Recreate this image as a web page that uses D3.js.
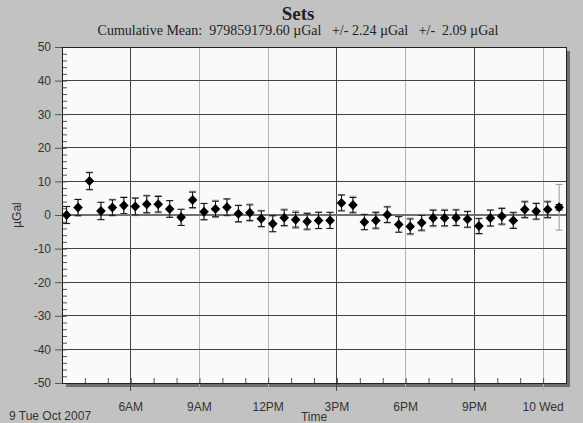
<!DOCTYPE html>
<html>
<head>
<meta charset="utf-8">
<script src="https://cdn.jsdelivr.net/npm/d3@7"></script>
<style>
  body { margin: 0; background: #c2c2c2; }
  svg { display: block; }
</style>
</head>
<body>
<svg id="chart" width="583" height="423"></svg>
<script>
// set times (start of each set)
const setTimes = [
  '2007-10-09T03:12', '2007-10-09T03:42', '2007-10-09T04:12', '2007-10-09T04:42',
  '2007-10-09T05:12', '2007-10-09T05:42', '2007-10-09T06:12', '2007-10-09T06:42',
  '2007-10-09T07:12', '2007-10-09T07:42', '2007-10-09T08:12', '2007-10-09T08:42',
  '2007-10-09T09:12', '2007-10-09T09:42', '2007-10-09T10:12', '2007-10-09T10:42',
  '2007-10-09T11:12', '2007-10-09T11:42', '2007-10-09T12:12', '2007-10-09T12:42',
  '2007-10-09T13:12', '2007-10-09T13:42', '2007-10-09T14:12', '2007-10-09T14:42',
  '2007-10-09T15:12', '2007-10-09T15:42', '2007-10-09T16:12', '2007-10-09T16:42',
  '2007-10-09T17:12', '2007-10-09T17:42', '2007-10-09T18:12', '2007-10-09T18:42',
  '2007-10-09T19:12', '2007-10-09T19:42', '2007-10-09T20:12', '2007-10-09T20:42',
  '2007-10-09T21:12', '2007-10-09T21:42', '2007-10-09T22:12', '2007-10-09T22:42',
  '2007-10-09T23:12', '2007-10-09T23:42', '2007-10-10T00:12', '2007-10-10T00:42'
];

// set gravity minus cumulative mean (µGal)
const setValues = [
  0.0, 2.2, 10.1, 1.2, 2.2, 2.8, 2.5, 3.2, 3.2, 1.8, -0.7, 4.5,
  1.0, 1.8, 2.3, 0.4, 0.7, -1.1, -2.6, -0.8, -1.4, -1.9, -1.6, -1.6,
  3.6, 3.0, -2.1, -1.6, 0.1, -2.8, -3.4, -2.3, -0.9, -0.9, -0.8, -1.3,
  -3.3, -0.9, -0.4, -1.6, 1.6, 1.1, 1.6, 2.3
];

// set scatter (black bars) and set uncertainty (grey bars)
const setErrBlack = [
  2.5, 2.4, 2.6, 2.6, 2.3, 2.4, 2.5, 2.5, 2.3, 2.5, 2.4, 2.3,
  2.4, 2.3, 2.5, 2.4, 2.3, 2.3, 2.4, 2.3, 2.2, 2.3, 2.4, 2.4,
  2.4, 2.2, 2.3, 2.3, 2.3, 2.3, 2.2, 2.2, 2.3, 2.3, 2.3, 2.3,
  2.2, 2.4, 2.3, 2.4, 2.3, 2.3, 2.3, 0.8
];
const setErrGrey = [
  2.6, 2.5, 2.4, 2.5, 2.5, 2.6, 2.7, 2.7, 2.6, 2.4, 2.4, 2.6,
  2.5, 2.6, 2.4, 2.6, 2.6, 2.5, 2.3, 2.6, 2.6, 2.6, 2.5, 2.4,
  2.2, 2.6, 2.2, 2.6, 2.5, 2.4, 2.5, 2.5, 2.6, 2.6, 2.5, 2.5,
  2.4, 2.3, 2.6, 2.2, 2.6, 2.5, 2.6, 6.8
];

const xTickTimes = [
  '2007-10-09T06:00', '2007-10-09T09:00', '2007-10-09T12:00', '2007-10-09T15:00',
  '2007-10-09T18:00', '2007-10-09T21:00', '2007-10-10T00:00'
];
const xTickLabels = ['6AM', '9AM', '12PM', '3PM', '6PM', '9PM', '10 Wed'];
const yTicks = [-50, -40, -30, -20, -10, 0, 10, 20, 30, 40, 50];

const titleText = 'Sets';
const subtitleText = 'Cumulative Mean:  979859179.60 \u00b5Gal   +/- 2.24 \u00b5Gal   +/-  2.09 \u00b5Gal';
const dateLabel = '9 Tue Oct 2007';
const xTitle = 'Time';
const yTitle = '\u00b5Gal';

const parseTime = d3.timeParse('%Y-%m-%dT%H:%M');

const margin = { top: 47, left: 62, right: 17, bottom: 40 };
const totalWidth = 583;
const totalHeight = 423;
const chartWidth = totalWidth - margin.left - margin.right;
const chartHeight = totalHeight - margin.top - margin.bottom;
const sansFont = '"Liberation Sans", Arial, sans-serif';
const serifFont = '"Liberation Serif", "Times New Roman", serif';

const data = setTimes.map((t, i) => ({
    time: parseTime(t),
    value: setValues[i],
    errBlack: setErrBlack[i],
    errGrey: setErrGrey[i]
}));

const xScale = d3.scaleTime()
    .domain([parseTime('2007-10-09T03:00'), parseTime('2007-10-10T01:00')])
    .range([0, chartWidth]);
const yScale = d3.scaleLinear().domain([-50, 50]).range([chartHeight, 0]);

const svg = d3.select('#chart');

svg.append('rect')
    .attr('width', totalWidth)
    .attr('height', totalHeight)
    .attr('fill', '#c2c2c2');

// titles
svg.append('text')
    .attr('x', 298).attr('y', 20)
    .attr('text-anchor', 'middle')
    .attr('font-family', serifFont)
    .attr('font-weight', 'bold')
    .attr('font-size', 19)
    .attr('fill', '#222')
    .text(titleText);

svg.append('text')
    .attr('x', 298).attr('y', 35)
    .attr('text-anchor', 'middle')
    .attr('font-family', serifFont)
    .attr('font-size', 14)
    .attr('fill', '#222')
    .attr('xml:space', 'preserve')
    .style('white-space', 'pre')
    .text(subtitleText);

const gChart = svg.append('g')
    .attr('transform', 'translate(' + margin.left + ',' + margin.top + ')');

// shadow + plot background
gChart.append('rect')
    .attr('x', 4).attr('y', 4)
    .attr('width', chartWidth).attr('height', chartHeight)
    .attr('fill', '#6e6e6e');
gChart.append('rect')
    .attr('width', chartWidth).attr('height', chartHeight)
    .attr('fill', '#fafafa');

// vertical grid (every 3 hours), some lighter than others as in the original
const lightHours = new Set([9, 12, 18, 0]);
gChart.append('g')
    .selectAll('line')
    .data(xTickTimes.map(parseTime))
    .join('line')
    .attr('x1', d => xScale(d)).attr('x2', d => xScale(d))
    .attr('y1', 0).attr('y2', chartHeight + 8)
    .attr('stroke', d => lightHours.has(d.getHours()) ? '#b4b4b4' : '#444')
    .attr('stroke-width', 1)
    .attr('shape-rendering', 'crispEdges');

// horizontal grid
gChart.append('g')
    .selectAll('line')
    .data(yTicks.filter(v => v !== 0 && Math.abs(v) !== 50))
    .join('line')
    .attr('x1', 0).attr('x2', chartWidth)
    .attr('y1', d => yScale(d)).attr('y2', d => yScale(d))
    .attr('stroke', '#444')
    .attr('shape-rendering', 'crispEdges');

gChart.append('line')
    .attr('x1', 0).attr('x2', chartWidth)
    .attr('y1', yScale(0)).attr('y2', yScale(0))
    .attr('stroke', '#707070')
    .attr('stroke-width', 2);

// minor ticks: y every 2 inside, x hourly inside
const yMinor = d3.axisRight(yScale).ticks(50).tickSize(5).tickFormat('');
gChart.append('g').call(yMinor)
    .call(g => g.select('.domain').remove())
    .selectAll('line').attr('stroke', '#555');

const xMinor = d3.axisTop(xScale).ticks(d3.timeHour.every(1)).tickSize(5).tickFormat('');
gChart.append('g')
    .attr('transform', 'translate(0,' + chartHeight + ')')
    .call(xMinor)
    .call(g => g.select('.domain').remove())
    .selectAll('line').attr('stroke', '#555');

// plot frame
gChart.append('rect')
    .attr('width', chartWidth).attr('height', chartHeight)
    .attr('fill', 'none')
    .attr('stroke', '#222')
    .attr('shape-rendering', 'crispEdges');

// y axis
const yAxis = d3.axisLeft(yScale).tickValues(yTicks).tickSize(7).tickPadding(4)
    .tickFormat(d => String(d));
gChart.append('g').call(yAxis)
    .call(g => g.select('.domain').remove())
    .call(g => g.selectAll('line').attr('stroke', '#555'))
    .call(g => g.selectAll('text')
        .attr('font-family', sansFont)
        .attr('font-size', 12)
        .attr('fill', '#333'));

// x axis labels
gChart.append('g')
    .selectAll('text')
    .data(xTickTimes)
    .join('text')
    .attr('x', d => xScale(parseTime(d)))
    .attr('y', chartHeight + 28)
    .attr('text-anchor', 'middle')
    .attr('font-family', sansFont)
    .attr('font-size', 12)
    .attr('fill', '#333')
    .text((d, i) => xTickLabels[i]);

svg.append('text')
    .attr('x', 9).attr('y', 420)
    .attr('font-family', sansFont)
    .attr('font-size', 12)
    .attr('fill', '#333')
    .text(dateLabel);

svg.append('text')
    .attr('x', margin.left + chartWidth / 2).attr('y', 421)
    .attr('text-anchor', 'middle')
    .attr('font-family', sansFont)
    .attr('font-size', 12)
    .attr('fill', '#333')
    .text(xTitle);

svg.append('text')
    .attr('transform', 'translate(21,' + (margin.top + yScale(0)) + ') rotate(-90)')
    .attr('text-anchor', 'middle')
    .attr('font-family', sansFont)
    .attr('font-size', 12)
    .attr('fill', '#333')
    .text(yTitle);

// error bars
const capHalf = 3.5;
const drawErrorBars = (key, color) => {
    const g = gChart.append('g').attr('stroke', color).attr('stroke-width', 1);
    const bars = g.selectAll('g').data(data).join('g');
    bars.append('line')
        .attr('x1', d => xScale(d.time)).attr('x2', d => xScale(d.time))
        .attr('y1', d => yScale(d.value - d[key])).attr('y2', d => yScale(d.value + d[key]));
    bars.append('line')
        .attr('x1', d => xScale(d.time) - capHalf).attr('x2', d => xScale(d.time) + capHalf)
        .attr('y1', d => yScale(d.value + d[key])).attr('y2', d => yScale(d.value + d[key]));
    bars.append('line')
        .attr('x1', d => xScale(d.time) - capHalf).attr('x2', d => xScale(d.time) + capHalf)
        .attr('y1', d => yScale(d.value - d[key])).attr('y2', d => yScale(d.value - d[key]));
};
drawErrorBars('errGrey', '#9a9a9a');
drawErrorBars('errBlack', '#111');

// diamonds
gChart.append('g')
    .selectAll('path')
    .data(data)
    .join('path')
    .attr('transform', d => 'translate(' + xScale(d.time) + ',' + yScale(d.value) + ')')
    .attr('d', 'M0,-5L4.8,0L0,5L-4.8,0Z')
    .attr('fill', '#000');
</script>
</body>
</html>
